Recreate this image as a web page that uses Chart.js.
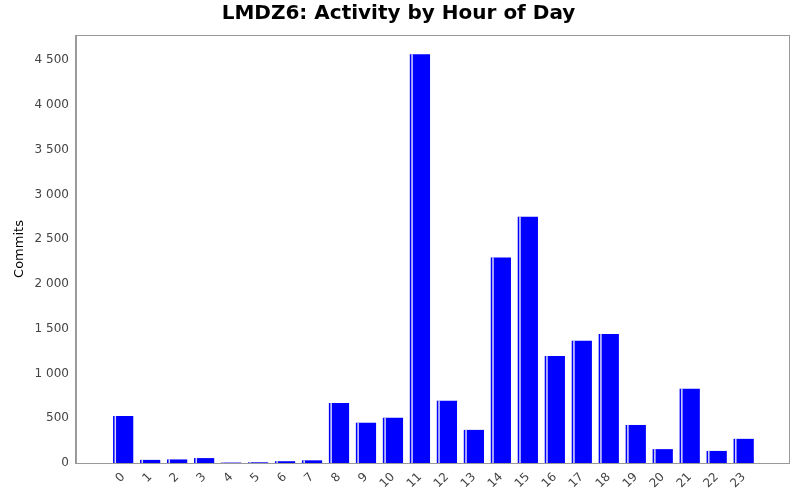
<!DOCTYPE html>
<html><head><meta charset="utf-8">
<script src="https://cdn.jsdelivr.net/npm/chart.js@4"></script>
<style>html,body{margin:0;padding:0;background:#fff}#w{width:800px;height:500px}</style>
</head><body><div id="w"><canvas id="c"></canvas></div>
<script>
const hours = [0,1,2,3,4,5,6,7,8,9,10,11,12,13,14,15,16,17,18,19,20,21,22,23];
const commits = [525,35,40,55,5,8,20,30,670,450,505,4565,695,370,2295,2750,1195,1365,1440,425,155,830,135,270];
const yTicks = [0,500,1000,1500,2000,2500,3000,3500,4000,4500];

const fmt = v => String(v).replace(/\B(?=(\d{3})+(?!\d))/g, '\u00a0');
const font = {family:'DejaVu Sans', size:12};

const stripe = {
  id:'stripe',
  afterDatasetsDraw(chart){
    const ctx = chart.ctx;
    chart.getDatasetMeta(0).data.forEach(b=>{
      const h = b.base - b.y; if (h<=0) return;
      const left = b.x - b.width/2;
      ctx.fillStyle = 'rgba(255,255,255,0.85)';
      ctx.fillRect(left+1.5, b.y, 1.5, h);
    });
  }
};
const frame = {
  id:'frame',
  afterDraw(chart){
    const a = chart.chartArea, ctx = chart.ctx;
    ctx.save(); ctx.strokeStyle = '#999'; ctx.lineWidth = 1;
    ctx.strokeRect(a.left+0.5, a.top+0.5, a.right-a.left, a.bottom-a.top);
    ctx.restore();
  }
};

new Chart(document.getElementById('c'), {
  type:'bar',
  data:{datasets:[{data:hours.map((h,i)=>({x:h,y:commits[i]})),backgroundColor:'#0000ff',barPercentage:0.75,categoryPercentage:1}]},
  options:{
    responsive:true, maintainAspectRatio:false, animation:false,
    layout:{padding:{left:8,right:11,top:0,bottom:6}},
    plugins:{legend:{display:false},tooltip:{enabled:false},
      title:{display:true,text:'LMDZ6: Activity by Hour of Day',color:'#000',font:{family:'DejaVu Sans',size:20,weight:'bold'},padding:{top:2,bottom:9}}},
    scales:{
      x:{type:'linear',min:-1.75,max:24.68,offset:false,grid:{display:false,drawTicks:true,tickLength:4},border:{color:'#999'},
        afterBuildTicks(s){s.ticks = hours.map(v=>({value:v}));},
        ticks:{color:'#444',font,maxRotation:45,minRotation:45,autoSkip:false,callback:v=>String(v)}},
      y:{min:0,max:4780,grid:{display:false,tickLength:4},border:{color:'#999'},
        afterBuildTicks(s){s.ticks = yTicks.map(v=>({value:v}));},
        title:{display:true,text:'Commits',color:'#000',font:{family:'DejaVu Sans',size:13}},
        ticks:{color:'#444',font,callback:v=>fmt(v)}}
    }
  },
  plugins:[stripe,frame]
});
</script></body></html>
